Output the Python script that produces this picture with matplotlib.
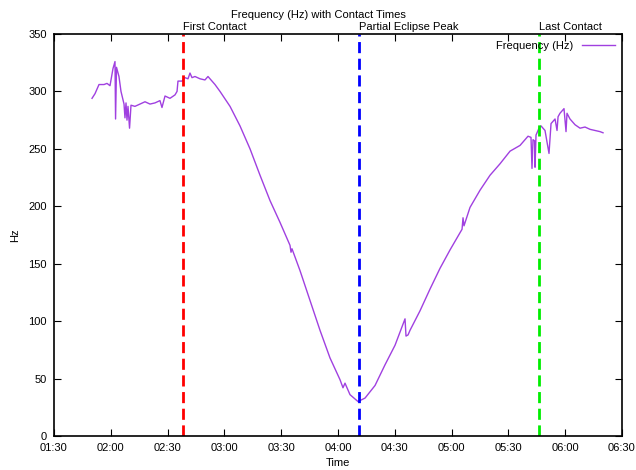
import matplotlib
matplotlib.use("Agg")
import matplotlib.pyplot as plt
import matplotlib.dates as mdates
import pandas as pd

plt.rcParams['font.family'] = ['Liberation Sans', 'DejaVu Sans']

times = ["01:50:05","01:51:39","01:53:46","01:56:25","01:57:59","01:59:35","02:01:10","02:02:13","02:02:31","02:03:01",
         "02:04:19","02:05:23","02:06:59","02:07:29","02:08:02","02:08:33","02:09:05","02:09:54","02:10:40","02:12:45",
         "02:15:25","02:18:04","02:20:42","02:23:19","02:25:58","02:27:02","02:28:38","02:31:16","02:33:55","02:34:59",
         "02:35:29","02:37:36","02:39:11","02:40:47","02:41:49","02:42:53","02:44:28","02:47:07","02:49:44","02:51:20",
         "02:53:27","02:55:02","02:57:41","03:02:58","03:08:14","03:13:32","03:18:49","03:24:05","03:29:22","03:34:39",
         "03:35:11","03:35:42","03:39:56","03:45:13","03:50:30","03:55:46","04:01:04","04:02:38","04:03:42","04:06:20",
         "04:10:34","04:14:16","04:19:34","04:24:50","04:30:07","04:35:24","04:35:55","04:36:59","04:38:02","04:43:19",
         "04:48:37","04:53:53","04:59:10","05:04:27","05:05:31","05:06:02","05:06:33","05:09:43","05:15:01","05:20:17",
         "05:25:34","05:30:52","05:36:09","05:40:22","05:41:56","05:42:28","05:43:00","05:43:48","05:44:04","05:44:35",
         "05:46:10","05:47:13","05:49:20","05:51:27","05:52:31","05:54:38","05:55:41","05:56:14","05:57:15","05:59:22",
         "06:00:26","06:00:57","06:02:32","06:05:12","06:07:50","06:10:28","06:13:07","06:18:23","06:19:59"]
freq = [294,298,306,306,307,305,320,326,276,321,
        313,300,289,277,290,275,287,268,288,287,
        289,291,289,290,292,286,296,294,297,300,
        309,309,312,311,316,312,313,311,310,313,
        309,306,300,287,270,250,227,205,186,166,
        160,163,144,118,92,68,49,42,46,36,
        30,33,44,62,79,102,87,88,92,109,
        128,146,162,177,180,190,183,199,214,227,
        237,248,253,261,260,233,258,257,234,262,
        268,270,266,246,272,276,266,278,281,285,
        265,281,276,271,268,269,267,265,264]

contact_names = ["First Contact", "Partial Eclipse Peak", "Last Contact"]
contact_times = ["02:38:08", "04:11:06", "05:46:12"]
contact_colors = ["#ff0000", "#0000ff", "#00ee00"]

day = "2024-04-08 "
t = pd.to_datetime([day + s for s in times])
ct = pd.to_datetime([day + s for s in contact_times])

fig = plt.figure(figsize=(6.36, 4.70), dpi=100)
ax = fig.add_axes([54/636, 34/470, 568/636, 402/470])

ax.plot(t, freq, color="#a040e0", lw=1.0, label="Frequency (Hz)")
for name, c, col in zip(contact_names, ct, contact_colors):
    ax.axvline(c, color=col, lw=2, linestyle=(0, (4, 2)))
    ax.text(c, 1.005, name, transform=ax.get_xaxis_transform(), ha="left", va="bottom", fontsize=8)

ax.set_xlim(pd.Timestamp(day + "01:30:00"), pd.Timestamp(day + "06:30:00"))
ax.set_ylim(0, 350)
ax.set_yticks(range(0, 351, 50))
ax.xaxis.set_major_locator(mdates.MinuteLocator(byminute=[0, 30]))
ax.xaxis.set_major_formatter(mdates.DateFormatter("%H:%M"))
ax.tick_params(direction="in", top=True, right=True, labelsize=8, length=5, width=0.8, pad=5)
for s in ax.spines.values():
    s.set_linewidth(1.2)

ax.set_xlabel("Time", fontsize=8, labelpad=4)
ax.set_ylabel("Hz", fontsize=8, labelpad=6)
fig.text(0.5, 1 - 15/470, "Frequency (Hz) with Contact Times", ha="center", va="center", fontsize=8)

leg = ax.legend(loc="upper right", frameon=False, fontsize=8, markerfirst=False,
                handlelength=3, borderaxespad=0.2)

fig.savefig("out.png", dpi=100)
